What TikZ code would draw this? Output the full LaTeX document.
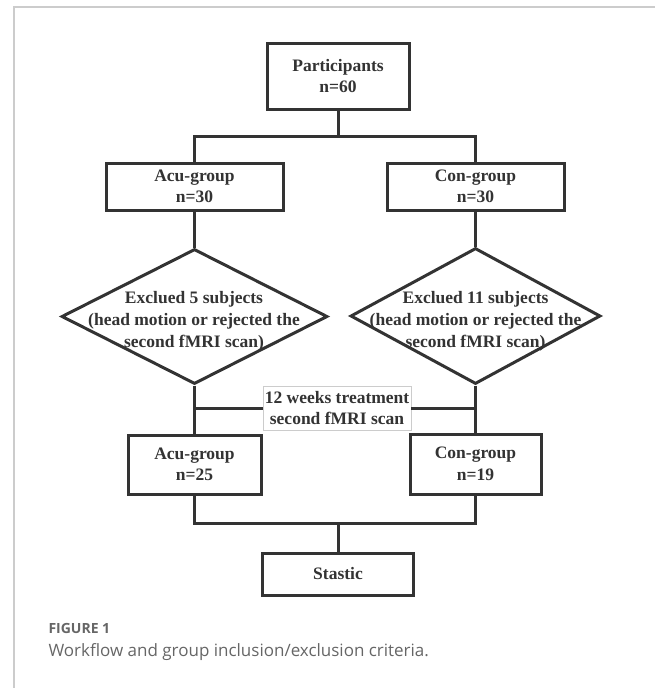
\documentclass[tikz,border=0pt]{standalone}
\usepackage{fontspec}
\setmainfont{Liberation Serif}
\newfontfamily\capfont{Open Sans}
\usetikzlibrary{shapes.geometric}
\definecolor{ink}{HTML}{333333}
\definecolor{rim}{HTML}{CCCCCC}
\definecolor{capgray}{HTML}{666666}
\tikzset{
  box/.style={draw=ink,fill=white,inner sep=0pt,align=center,text=ink,
    font=\fontsize{17.5}{21.5}\selectfont\bfseries},
  gate/.style={draw=ink,diamond,inner sep=0pt},
  txt/.style={inner sep=0pt,align=center,text=ink,
    font=\fontsize{17.5}{22}\selectfont\bfseries},
  tag/.style={draw=rim,line width=0.8pt,fill=white,inner sep=0pt,align=center,text=ink,
    font=\fontsize{17.5}{21}\selectfont\bfseries}
}

\begin{document}
\begin{tikzpicture}[x=1pt,y=-1pt,line width=3pt]
  \useasboundingbox (0,0) rectangle (655,688);
  \draw[rim,line width=1.5pt] (14,690) -- (14,7) -- (657,7);

  \node[box,minimum width=142pt,minimum height=66pt] (part) at (338,76) {Participants\\n=60};
  \node[box,minimum width=177pt,minimum height=47pt] (acu1) at (194.5,186.5) {Acu-group\\n=30};
  \node[box,minimum width=177pt,minimum height=47pt] (con1) at (475.5,186.5) {Con-group\\n=30};

  \node[gate,minimum width=266pt,minimum height=135pt] (ex1) at (194.5,316.5) {};
  \node[gate,minimum width=250pt,minimum height=136pt] (ex2) at (475.5,316) {};
  \node[txt] (ex1t) at (194,321) {Exclued 5 subjects\\(head motion or rejected the\\second fMRI scan)};
  \node[txt] (ex2t) at (475.5,321) {Exclued 11 subjects\\(head motion or rejected the\\second fMRI scan)};

  \node[box,minimum width=133pt,minimum height=59pt] (acu2) at (194.5,464.5) {Acu-group\\n=25};
  \node[box,minimum width=131pt,minimum height=60pt] (con2) at (475.5,464) {Con-group\\n=19};
  \node[box,minimum width=151pt,minimum height=42pt] (stat) at (338,574) {Stastic};

  \coordinate (jtop) at (338,136);
  \coordinate (jbot) at (338,523);

  \draw[ink] (part.south) -- (jtop);
  \draw[ink] (acu1.north) |- (jtop) -| (con1.north);
  \draw[ink] (acu1.south) -- (ex1.north);
  \draw[ink] (con1.south) -- (ex2.north);
  \draw[ink] (ex1.south) -- (acu2.north);
  \draw[ink] (ex2.south) -- (con2.north);
  \draw[ink] (acu2.south) |- (jbot) -| (con2.south);
  \draw[ink] (jbot) -- (stat.north);

  \node[tag,minimum width=148pt,minimum height=44pt] (mid) at (337,408) {12 weeks treatment\\second fMRI scan};
  \draw[ink] (ex1.south |- mid.west) -- (mid.west);
  \draw[ink] (mid.east) -- (ex2.south |- mid.east);

  \node[anchor=west,inner sep=0pt,text=capgray,font=\capfont\bfseries\fontsize{14}{16}\selectfont] (fig) at (47,628) {FIGURE 1};
  \node[anchor=west,inner sep=0pt,text=capgray,font=\capfont\fontsize{17}{20}\selectfont] (cap) at (47,652) {Workflow and group inclusion/exclusion criteria.};
\end{tikzpicture}
\end{document}
